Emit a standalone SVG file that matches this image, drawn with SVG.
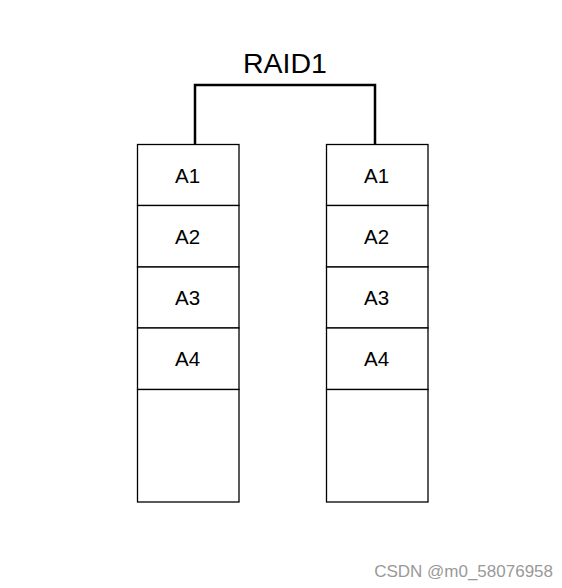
<svg xmlns="http://www.w3.org/2000/svg" width="562" height="588" viewBox="0 0 562 588">
<style>
.cell{fill:#fff;stroke:#000;stroke-width:1.3}
.lbl{font-family:"Liberation Sans",Arial,sans-serif;font-size:20.5px;fill:#000;text-anchor:middle;dominant-baseline:central}
.conn{fill:none;stroke:#000;stroke-width:2.5}
</style>
<rect width="562" height="588" fill="#fff"/>
<g id="connectors">
<path class="conn" d="M195,144 V85 H375 V144"/>
</g>
<text x="285" y="73.3" font-family="Liberation Sans,Arial,sans-serif" font-size="28.5" text-anchor="middle" fill="#000">RAID1</text>
<g id="diskA">
<rect class="cell" x="137.5" y="144.5" width="101.5" height="61"/>
<text class="lbl" x="187.5" y="175">A1</text>
<rect class="cell" x="137.5" y="205.5" width="101.5" height="61.5"/>
<text class="lbl" x="187.5" y="236">A2</text>
<rect class="cell" x="137.5" y="267" width="101.5" height="61"/>
<text class="lbl" x="187.5" y="297">A3</text>
<rect class="cell" x="137.5" y="328" width="101.5" height="61.5"/>
<text class="lbl" x="187.5" y="358">A4</text>
<rect class="cell" x="137.5" y="389.5" width="101.5" height="112.5"/>
</g>
<g id="diskB">
<rect class="cell" x="326.5" y="144.5" width="101.5" height="61"/>
<text class="lbl" x="376.5" y="175">A1</text>
<rect class="cell" x="326.5" y="205.5" width="101.5" height="61.5"/>
<text class="lbl" x="376.5" y="236">A2</text>
<rect class="cell" x="326.5" y="267" width="101.5" height="61"/>
<text class="lbl" x="376.5" y="297">A3</text>
<rect class="cell" x="326.5" y="328" width="101.5" height="61.5"/>
<text class="lbl" x="376.5" y="358">A4</text>
<rect class="cell" x="326.5" y="389.5" width="101.5" height="112.5"/>
</g>
<text x="553" y="577" font-family="Liberation Sans,Arial,sans-serif" font-size="17" fill="#999" text-anchor="end">CSDN @m0_58076958</text>
</svg>
